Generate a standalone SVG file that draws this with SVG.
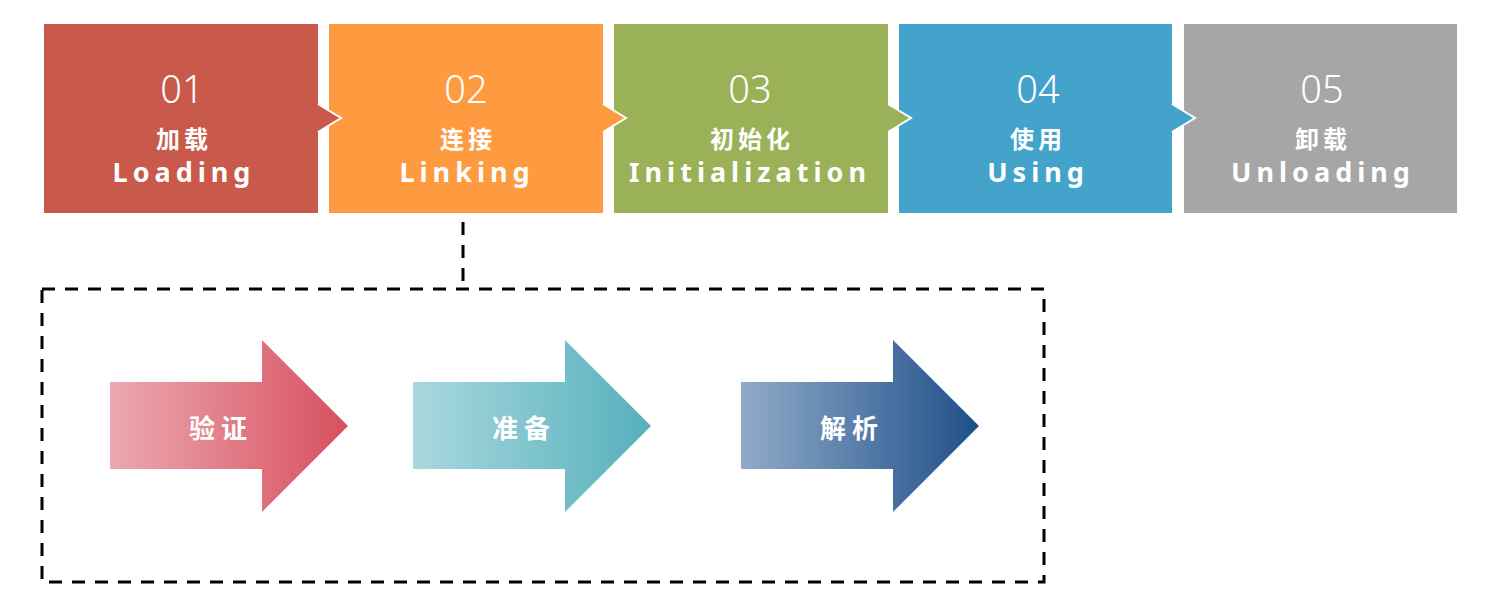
<svg xmlns="http://www.w3.org/2000/svg" width="1492" height="603" viewBox="0 0 1492 603">
<style>
.num{font-family:"Noto Sans","Noto Sans CJK SC",sans-serif;font-weight:300;font-size:38px;fill:#fff;text-anchor:middle}
.cn{font-family:"Noto Sans CJK SC",sans-serif;font-weight:700;font-size:24px;fill:#fff;text-anchor:middle;letter-spacing:4px}
.en{font-family:"Noto Sans","Noto Sans CJK SC",sans-serif;font-weight:700;font-size:27px;fill:#fff;text-anchor:middle;letter-spacing:5px}
.ar{font-family:"Noto Sans CJK SC",sans-serif;font-weight:700;font-size:26px;fill:#fff;text-anchor:middle;letter-spacing:6px}
.dash{fill:none;stroke:#000;stroke-width:3;stroke-dasharray:13 10}
.notch{stroke:none}
.notchline{fill:none;stroke:#fff;stroke-width:2}
</style>
<defs>
<linearGradient id="g1" x1="0" y1="0" x2="1" y2="0"><stop offset="0" stop-color="#EBA9B0"/><stop offset="1" stop-color="#D8505F"/></linearGradient>
<linearGradient id="g2" x1="0" y1="0" x2="1" y2="0"><stop offset="0" stop-color="#A9D8DE"/><stop offset="1" stop-color="#56B0BC"/></linearGradient>
<linearGradient id="g3" x1="0" y1="0" x2="1" y2="0"><stop offset="0" stop-color="#90ABC9"/><stop offset="1" stop-color="#1F4F89"/></linearGradient>
</defs>
<rect width="1492" height="603" fill="#fff"/>
<g id="stage1"><rect x="44" y="24" width="274" height="189" fill="#C8594B"/></g>
<g id="stage2"><rect x="329" y="24" width="274" height="189" fill="#FE9B41"/></g>
<g id="stage3"><rect x="614" y="24" width="274" height="189" fill="#9BB158"/></g>
<g id="stage4"><rect x="899" y="24" width="273" height="189" fill="#43A3CB"/></g>
<g id="stage5"><rect x="1184" y="24" width="273" height="189" fill="#A6A6A6"/></g>
<g id="connectors">
<polygon class="notch" points="317,104 341,118 317,132" fill="#C8594B"/>
<polyline class="notchline" points="318,104 341,118 318,132"/>
<polygon class="notch" points="602,104 626,118 602,132" fill="#FE9B41"/>
<polyline class="notchline" points="603,104 626,118 603,132"/>
<polygon class="notch" points="887,104 911,118 887,132" fill="#9BB158"/>
<polyline class="notchline" points="888,104 911,118 888,132"/>
<polygon class="notch" points="1171,104 1195,118 1171,132" fill="#43A3CB"/>
<polyline class="notchline" points="1172,104 1195,118 1172,132"/>
<line class="dash" x1="463" y1="222" x2="463" y2="288"/>
</g>
<g id="labels1">
<text class="num" x="182" y="103">01</text>
<text class="cn" x="184" y="148">加载</text>
<text class="en" x="184" y="182">Loading</text>
</g>
<g id="labels2">
<text class="num" x="466" y="103">02</text>
<text class="cn" x="468" y="148">连接</text>
<text class="en" x="467" y="182">Linking</text>
</g>
<g id="labels3">
<text class="num" x="750" y="103">03</text>
<text class="cn" x="752" y="148">初始化</text>
<text class="en" x="750" y="182">Initialization</text>
</g>
<g id="labels4">
<text class="num" x="1038" y="103">04</text>
<text class="cn" x="1038" y="148">使用</text>
<text class="en" x="1038" y="182">Using</text>
</g>
<g id="labels5">
<text class="num" x="1322" y="103">05</text>
<text class="cn" x="1323" y="148">卸载</text>
<text class="en" x="1323" y="182">Unloading</text>
</g>
<g id="linking-group"><rect class="dash" x="42" y="289" width="1002" height="293"/></g>
<g id="verify">
<polygon points="110,382 262,382 262,340 348,426 262,512 262,469 110,469" fill="url(#g1)"/>
<text class="ar" x="221" y="438">验证</text>
</g>
<g id="prepare">
<polygon points="413,382 565,382 565,340 651,426 565,512 565,469 413,469" fill="url(#g2)"/>
<text class="ar" x="524" y="438">准备</text>
</g>
<g id="resolve">
<polygon points="741,382 893,382 893,340 979,426 893,512 893,469 741,469" fill="url(#g3)"/>
<text class="ar" x="852" y="438">解析</text>
</g>
</svg>
